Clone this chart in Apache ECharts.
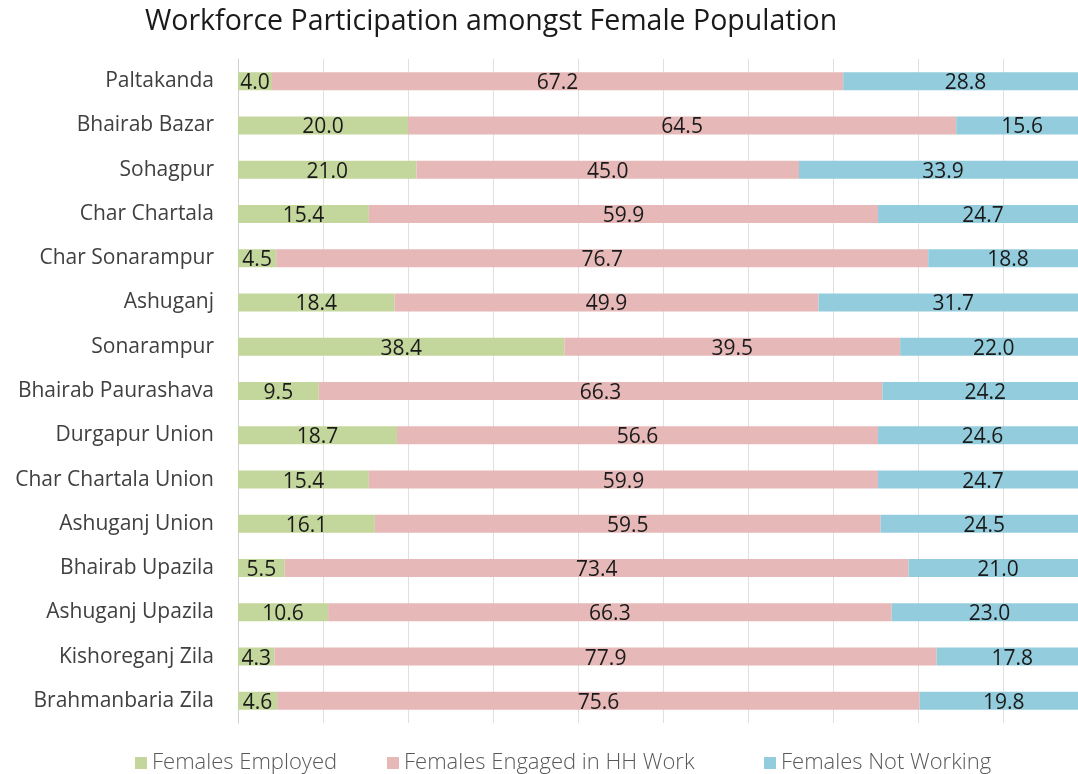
<!DOCTYPE html>
<html>
<head>
<meta charset="utf-8">
<script src="https://cdn.jsdelivr.net/npm/echarts@6/dist/echarts.min.js"></script>
<style>
  html, body { margin: 0; padding: 0; background: #fff; }
  #workforceChart { width: 1078px; height: 774px; }
</style>
</head>
<body>
<div id="workforceChart"></div>
<script>
// Workforce Participation amongst Female Population (100% stacked bars)
var areas = ['Paltakanda', 'Bhairab Bazar', 'Sohagpur', 'Char Chartala', 'Char Sonarampur',
  'Ashuganj', 'Sonarampur', 'Bhairab Paurashava', 'Durgapur Union', 'Char Chartala Union',
  'Ashuganj Union', 'Bhairab Upazila', 'Ashuganj Upazila', 'Kishoreganj Zila', 'Brahmanbaria Zila'];
var employed = [4.0, 20.0, 21.0, 15.4, 4.5, 18.4, 38.4, 9.5, 18.7, 15.4, 16.1, 5.5, 10.6, 4.3, 4.6];
var hhWork = [67.2, 64.5, 45.0, 59.9, 76.7, 49.9, 39.5, 66.3, 56.6, 59.9, 59.5, 73.4, 66.3, 77.9, 75.6];
var notWorking = [28.8, 15.6, 33.9, 24.7, 18.8, 31.7, 22.0, 24.2, 24.6, 24.7, 24.5, 21.0, 23.0, 17.8, 19.8];

var font = '"Open Sans", sans-serif';
var barLabel = {
  show: true,
  position: 'inside',
  color: '#1a1a1a',
  fontSize: 21,
  fontFamily: font,
  offset: [0, 2],
  formatter: function (p) { return p.value.toFixed(1); }
};

function legendAt(name, left) {
  return {
    data: [name],
    left: left,
    bottom: -5,
    icon: 'rect',
    itemWidth: 12,
    itemHeight: 12,
    itemGap: 0,
    textStyle: { color: '#595959', fontSize: 22, fontFamily: font, fontWeight: 300 }
  };
}

var chart = echarts.init(document.getElementById('workforceChart'));
chart.setOption({
  animation: false,
  title: {
    text: 'Workforce Participation amongst Female Population',
    left: 140,
    top: 2,
    textStyle: { color: '#1a1a1a', fontSize: 28.5, fontFamily: font, fontWeight: 'normal' }
  },
  legend: [
    legendAt('Females Employed', 130),
    legendAt('Females Engaged in HH Work', 382),
    legendAt('Females Not Working', 759)
  ],
  // the 100% end sits just past the right edge of the picture
  grid: { left: 238, width: 850, top: 59, bottom: 51, outerBoundsMode: 'none' },
  xAxis: {
    type: 'value',
    min: 0,
    max: 100,
    interval: 10,
    axisLabel: { show: false },
    axisLine: { show: false },
    axisTick: { show: false },
    splitLine: { lineStyle: { color: '#e0e0e0', width: 1 } }
  },
  yAxis: {
    type: 'category',
    inverse: true,
    data: areas,
    axisLine: { lineStyle: { color: '#d0d0d0' } },
    axisTick: { length: 7, lineStyle: { color: '#bfbfbf' } },
    axisLabel: { color: '#404040', fontSize: 21, fontFamily: font, margin: 24 }
  },
  series: [
    { name: 'Females Employed', type: 'bar', stack: 'total', data: employed,
      barWidth: 18, itemStyle: { color: '#c3d69b' }, label: barLabel },
    { name: 'Females Engaged in HH Work', type: 'bar', stack: 'total', data: hhWork,
      barWidth: 18, itemStyle: { color: '#e6b9b8' }, label: barLabel },
    { name: 'Females Not Working', type: 'bar', stack: 'total', data: notWorking,
      barWidth: 18, itemStyle: { color: '#93cddd' }, label: barLabel }
  ]
});

window.addEventListener('resize', function () { chart.resize(); });
</script>
</body>
</html>
